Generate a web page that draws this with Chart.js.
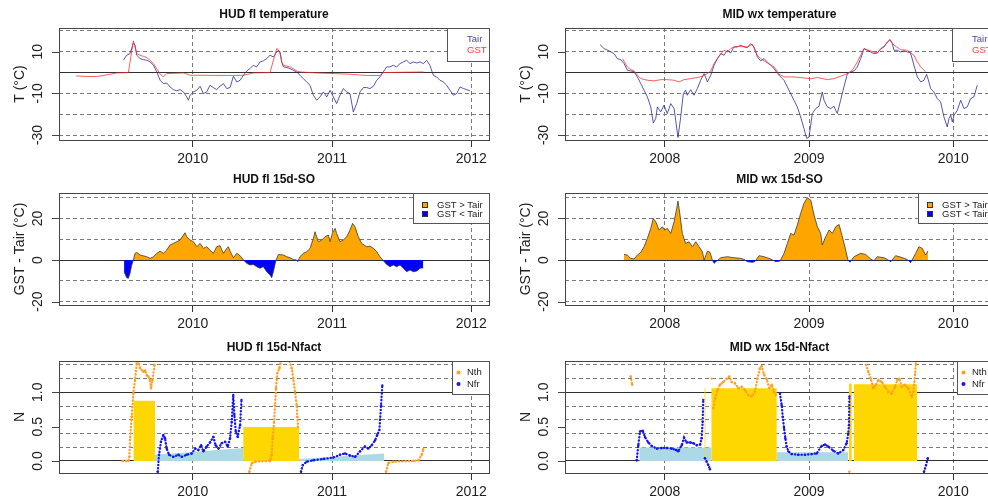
<!DOCTYPE html>
<html>
<head>
<meta charset="utf-8">
<title>HUD fl / MID wx</title>
<style>
    html, body { margin: 0; padding: 0; background: #fff; overflow: hidden; }
    #wrap { position: relative; width: 988px; height: 500px; overflow: hidden; }
    canvas { position: absolute; }
</style>
<script src="https://cdn.jsdelivr.net/npm/chart.js@4.4.1/dist/chart.umd.min.js"></script>
</head>
<body>
<div id="wrap">
    <canvas id="hudTemp" width="494" height="165" style="left:0;top:0"></canvas>
    <canvas id="midTemp" width="510" height="165" style="left:494px;top:0"></canvas>
    <canvas id="hudSo" width="494" height="165" style="left:0;top:165px"></canvas>
    <canvas id="midSo" width="510" height="165" style="left:494px;top:165px"></canvas>
    <canvas id="hudN" width="494" height="170" style="left:0;top:330px"></canvas>
    <canvas id="midN" width="510" height="170" style="left:494px;top:330px"></canvas>
</div>
<script>
// ---- axes / labels ----
const hudYears = [2010, 2011, 2012];
const midYears = [2008, 2009, 2010];
const tempGrid = [20, 10, 0, -10, -20, -30];
const tempLabels = [10, -10, -30];
const soGrid = [30, 20, 10, 0, -10, -20];
const soLabels = [20, 0, -20];
const nGrid = [0, 0.2, 0.4, 0.6, 0.8, 1.0, 1.2, 1.4];
const nLabels = [0, 0.5, 1.0];
const tempLegend = ['Tair', 'GST'];
const soLegend = ['GST > Tair', 'GST < Tair'];
const nLegend = ['Nth', 'Nfr'];

// ---- temperature series [decimal year, degC] ----
const hudTair = [[2009.502,5.9],[2009.526,8.3],[2009.550,9.1],[2009.574,14.2],[2009.586,13.1],[2009.598,8.3],[2009.622,6.7],[2009.646,6.2],[2009.670,5.9],[2009.694,5.1],[2009.718,3.5],[2009.742,0.3],[2009.766,-3.7],[2009.789,-5.3],[2009.813,-5.0],[2009.837,-6.9],[2009.861,-8.2],[2009.885,-8.8],[2009.909,-8.2],[2009.933,-9.3],[2009.957,-11.7],[2009.969,-13.3],[2009.981,-10.9],[2010.005,-9.3],[2010.029,-8.5],[2010.053,-6.6],[2010.077,-10.1],[2010.100,-9.3],[2010.124,-6.1],[2010.148,-7.2],[2010.172,-8.2],[2010.196,-6.6],[2010.220,-5.3],[2010.244,-7.7],[2010.268,-7.2],[2010.292,-1.8],[2010.316,-4.5],[2010.340,-3.7],[2010.364,-1.3],[2010.388,0.8],[2010.411,1.9],[2010.435,3.5],[2010.459,2.7],[2010.483,5.1],[2010.507,5.6],[2010.531,6.7],[2010.555,8.3],[2010.579,7.5],[2010.603,9.9],[2010.615,10.7],[2010.627,9.9],[2010.639,5.1],[2010.651,2.7],[2010.675,2.4],[2010.699,1.9],[2010.722,1.1],[2010.746,0.3],[2010.770,-1.3],[2010.794,-2.9],[2010.818,-4.5],[2010.842,-6.1],[2010.866,-10.9],[2010.890,-13.3],[2010.914,-11.7],[2010.938,-9.3],[2010.962,-11.7],[2010.986,-8.5],[2011.010,-11.7],[2011.033,-14.9],[2011.057,-10.9],[2011.081,-7.7],[2011.105,-9.3],[2011.129,-10.1],[2011.153,-18.9],[2011.177,-14.9],[2011.201,-9.3],[2011.225,-7.2],[2011.249,-7.2],[2011.273,-7.7],[2011.297,-6.6],[2011.321,-3.7],[2011.344,-2.1],[2011.368,0.3],[2011.392,2.7],[2011.416,2.7],[2011.440,3.5],[2011.464,2.7],[2011.488,4.3],[2011.512,5.1],[2011.536,5.9],[2011.560,4.3],[2011.584,5.1],[2011.608,4.6],[2011.632,5.1],[2011.656,4.3],[2011.679,5.9],[2011.703,3.5],[2011.727,-1.3],[2011.751,-2.1],[2011.775,-3.7],[2011.799,-4.5],[2011.823,-6.1],[2011.847,-8.5],[2011.871,-10.9],[2011.895,-10.1],[2011.919,-6.9],[2011.943,-7.7],[2011.967,-8.2],[2011.990,-8.8]];
const hudGst = [[2009.163,-1.6],[2009.239,-1.9],[2009.311,-1.9],[2009.359,-1.4],[2009.407,-0.8],[2009.455,-0.2],[2009.538,0.0],[2009.574,15.2],[2009.586,12.3],[2009.598,9.1],[2009.622,8.3],[2009.646,7.8],[2009.670,7.2],[2009.694,5.9],[2009.718,4.3],[2009.742,1.9],[2009.766,-0.8],[2009.789,-2.1],[2009.813,-0.5],[2009.933,-0.2],[2009.981,-1.3],[2010.292,-1.4],[2010.364,-1.3],[2010.435,-0.2],[2010.555,0.0],[2010.579,5.9],[2010.603,11.5],[2010.615,11.0],[2010.627,9.1],[2010.639,5.1],[2010.651,3.5],[2010.699,2.7],[2010.746,0.8],[2010.770,0.3],[2010.890,-0.2],[2011.010,-0.5],[2011.129,-0.8],[2011.249,-1.4],[2011.344,-1.4],[2011.368,0.0],[2011.656,0.3]];
const midTair = [[2007.552,13.4],[2007.580,11.5],[2007.614,10.4],[2007.649,9.1],[2007.672,6.7],[2007.695,6.2],[2007.718,4.3],[2007.741,1.1],[2007.764,0.8],[2007.788,0.3],[2007.811,-2.1],[2007.834,-5.3],[2007.857,-8.5],[2007.880,-11.7],[2007.903,-16.5],[2007.921,-24.2],[2007.938,-22.1],[2007.949,-16.5],[2007.972,-18.9],[2007.995,-15.7],[2008.018,-19.7],[2008.042,-14.9],[2008.065,-17.3],[2008.076,-22.9],[2008.092,-31.2],[2008.111,-21.3],[2008.129,-10.1],[2008.145,-8.5],[2008.157,-10.9],[2008.180,-8.2],[2008.203,-10.9],[2008.226,-7.7],[2008.249,-3.7],[2008.273,-0.5],[2008.296,-4.5],[2008.319,-1.3],[2008.342,3.5],[2008.365,6.7],[2008.388,9.1],[2008.411,8.3],[2008.434,10.7],[2008.457,9.4],[2008.480,12.3],[2008.503,12.3],[2008.527,13.1],[2008.550,12.3],[2008.573,12.0],[2008.596,13.9],[2008.619,12.3],[2008.642,7.5],[2008.665,5.6],[2008.688,6.7],[2008.711,5.1],[2008.734,3.5],[2008.758,1.9],[2008.781,-0.5],[2008.804,-2.1],[2008.827,-3.7],[2008.850,-6.9],[2008.873,-10.1],[2008.896,-13.3],[2008.919,-16.5],[2008.942,-21.3],[2008.965,-26.9],[2008.984,-31.7],[2009.000,-30.9],[2009.023,-19.7],[2009.046,-17.3],[2009.069,-16.2],[2009.092,-9.3],[2009.104,-13.3],[2009.127,-16.5],[2009.150,-17.3],[2009.173,-16.2],[2009.196,-19.7],[2009.219,-13.3],[2009.242,-6.9],[2009.266,-0.5],[2009.289,0.3],[2009.312,0.8],[2009.335,2.7],[2009.358,6.7],[2009.381,11.5],[2009.404,10.7],[2009.427,9.9],[2009.450,9.1],[2009.473,9.4],[2009.497,11.5],[2009.520,12.3],[2009.543,14.7],[2009.561,15.8],[2009.577,13.9],[2009.589,10.7],[2009.612,10.7],[2009.635,9.9],[2009.658,10.4],[2009.681,9.9],[2009.704,9.4],[2009.727,3.5],[2009.751,-2.1],[2009.774,-4.5],[2009.797,-3.7],[2009.815,-0.8],[2009.831,-4.5],[2009.843,-7.7],[2009.866,-9.3],[2009.889,-12.5],[2009.912,-14.1],[2009.935,-21.3],[2009.958,-26.1],[2009.970,-22.1],[2009.982,-20.5],[2009.993,-23.7],[2010.005,-20.5],[2010.028,-18.1],[2010.051,-13.3],[2010.074,-17.3],[2010.097,-16.5],[2010.120,-12.5],[2010.143,-11.7],[2010.166,-6.1]];
const midGst = [[2007.707,6.7],[2007.741,2.7],[2007.764,1.4],[2007.788,0.8],[2007.811,-1.3],[2007.834,-2.9],[2007.880,-3.7],[2007.926,-4.0],[2007.972,-3.4],[2008.018,-3.4],[2008.065,-3.7],[2008.099,-4.5],[2008.134,-3.4],[2008.180,-2.9],[2008.226,-2.4],[2008.261,-1.8],[2008.296,-0.5],[2008.319,0.8],[2008.342,4.3],[2008.365,6.7],[2008.388,8.8],[2008.411,10.7],[2008.434,9.9],[2008.457,11.5],[2008.480,12.3],[2008.527,12.6],[2008.573,12.3],[2008.607,13.6],[2008.642,8.3],[2008.665,6.7],[2008.711,4.6],[2008.758,2.7],[2008.792,-0.8],[2008.827,-2.1],[2008.896,-2.1],[2008.965,-2.6],[2009.012,-3.0],[2009.058,-2.4],[2009.127,-3.4],[2009.173,-2.9],[2009.219,-1.8],[2009.266,-0.5],[2009.300,1.1],[2009.335,5.1],[2009.358,8.3],[2009.381,11.5],[2009.427,10.4],[2009.473,9.4],[2009.520,12.6],[2009.561,15.8],[2009.589,13.1],[2009.635,11.0],[2009.681,10.7],[2009.727,8.3],[2009.751,5.1],[2009.774,2.7],[2009.808,0.3]];

// ---- 15d surface offset GST - Tair ----
const hudSo = [[2009.507,-5.6],[2009.526,-8.5],[2009.538,-8.8],[2009.550,-6.4],[2009.562,-2.4],[2009.574,0],[2009.586,3.2],[2009.598,3.7],[2009.622,2.4],[2009.670,1.6],[2009.694,0.8],[2009.718,1.6],[2009.742,3.2],[2009.766,4.3],[2009.789,3.2],[2009.813,4.8],[2009.837,7.2],[2009.861,8.0],[2009.885,8.8],[2009.909,9.6],[2009.933,12.0],[2009.945,13.1],[2009.957,11.2],[2009.981,9.6],[2010.005,8.8],[2010.029,6.4],[2010.053,8.0],[2010.077,5.6],[2010.100,6.4],[2010.124,4.8],[2010.148,3.2],[2010.172,6.4],[2010.196,6.9],[2010.220,3.2],[2010.244,5.6],[2010.256,6.4],[2010.268,4.3],[2010.292,1.1],[2010.316,3.2],[2010.340,2.1],[2010.364,0],[2010.388,-1.6],[2010.411,-2.4],[2010.435,-2.1],[2010.459,-3.2],[2010.483,-4.0],[2010.507,-3.2],[2010.531,-5.6],[2010.555,-7.2],[2010.567,-8.5],[2010.579,-5.6],[2010.598,0],[2010.615,2.7],[2010.651,2.4],[2010.675,1.6],[2010.699,1.1],[2010.722,0.3],[2010.746,0],[2010.754,-0.8],[2010.770,1.6],[2010.794,3.2],[2010.818,4.0],[2010.842,5.6],[2010.866,10.4],[2010.878,13.6],[2010.890,11.2],[2010.902,8.8],[2010.926,9.6],[2010.950,11.2],[2010.974,12.0],[2010.986,8.8],[2011.002,12.8],[2011.022,15.2],[2011.033,12.8],[2011.057,8.8],[2011.081,9.6],[2011.105,11.2],[2011.129,14.4],[2011.148,17.6],[2011.165,16.0],[2011.189,11.2],[2011.213,8.0],[2011.249,6.4],[2011.273,6.7],[2011.297,5.6],[2011.321,4.0],[2011.344,1.6],[2011.364,0],[2011.392,-2.1],[2011.416,-3.2],[2011.440,-2.4],[2011.464,-3.2],[2011.488,-2.4],[2011.512,-4.0],[2011.536,-5.6],[2011.560,-4.8],[2011.584,-5.6],[2011.608,-5.3],[2011.632,-4.0],[2011.656,-3.7]];
const midSo = [[2007.718,2.7],[2007.741,2.4],[2007.764,0.8],[2007.788,0.5],[2007.811,2.4],[2007.834,3.7],[2007.857,6.4],[2007.880,10.4],[2007.903,15.2],[2007.921,20.0],[2007.938,18.4],[2007.961,14.4],[2007.984,16.0],[2008.000,14.4],[2008.018,15.2],[2008.042,12.8],[2008.065,18.4],[2008.083,24.8],[2008.092,28.3],[2008.106,21.6],[2008.122,12.8],[2008.145,8.0],[2008.169,8.8],[2008.192,6.4],[2008.215,8.8],[2008.238,6.4],[2008.261,4.0],[2008.273,0],[2008.296,4.3],[2008.314,3.7],[2008.330,0],[2008.342,-1.6],[2008.360,-0.5],[2008.388,1.1],[2008.434,1.6],[2008.480,1.1],[2008.527,0.8],[2008.550,0.3],[2008.573,-0.8],[2008.607,-1.1],[2008.624,-0.8],[2008.654,2.1],[2008.688,1.6],[2008.734,0.5],[2008.769,-0.8],[2008.799,-0.5],[2008.827,3.2],[2008.850,8.0],[2008.873,12.8],[2008.896,12.0],[2008.919,16.8],[2008.942,22.4],[2008.965,27.2],[2008.988,29.9],[2009.012,28.8],[2009.035,21.6],[2009.058,16.0],[2009.081,12.8],[2009.092,7.2],[2009.115,11.2],[2009.139,14.4],[2009.162,12.8],[2009.185,16.0],[2009.208,17.1],[2009.231,11.2],[2009.254,4.8],[2009.270,0],[2009.284,-1.1],[2009.312,1.6],[2009.358,3.2],[2009.393,2.7],[2009.427,0.5],[2009.450,-0.3],[2009.473,1.6],[2009.520,1.1],[2009.543,0.3],[2009.566,-0.8],[2009.600,2.1],[2009.635,1.4],[2009.681,0.3],[2009.704,-1.3],[2009.739,3.2],[2009.762,6.4],[2009.785,5.6],[2009.808,2.4],[2009.824,4.3]];

// ---- 15d n-factors (null = gap) ----
const hudNth = [[2009.498,0],[2009.538,0],[2009.545,0.06],[2009.550,0.31],[2009.562,0.65],[2009.574,0.99],[2009.586,1.18],[2009.598,1.42],[2009.605,1.50],[2009.610,1.45],[2009.622,1.35],[2009.645,1.30],[2009.658,1.32],[2009.670,1.25],[2009.681,1.23],[2009.693,1.18],[2009.701,1.06],[2009.711,1.18],[2009.726,1.40],null,
    [2010.406,-0.156],[2010.424,-0.03],[2010.447,-0.01],[2010.555,0],[2010.567,0.09],[2010.574,0.33],[2010.584,0.57],[2010.591,0.81],[2010.598,1.06],[2010.607,1.28],[2010.622,1.35],[2010.632,1.45],[2010.650,1.52],[2010.693,1.47],[2010.711,1.35],[2010.722,1.20],[2010.734,1.01],[2010.747,0.81],[2010.751,0.64],[2010.756,0.50],null,
    [2011.388,-0.156],[2011.404,-0.03],[2011.440,-0.01],[2011.584,0],[2011.620,0.01],[2011.644,0.09],[2011.655,0.17]];
const hudNfr = [[2009.749,-0.156],[2009.758,0.09],[2009.772,0.28],[2009.789,0.38],[2009.801,0.33],[2009.813,0.18],[2009.830,0.09],[2009.861,0.06],[2009.897,0.09],[2009.921,0.06],[2009.957,0.09],[2009.993,0.11],[2010.017,0.18],[2010.040,0.16],[2010.060,0.23],[2010.076,0.14],[2010.100,0.21],[2010.124,0.27],[2010.148,0.35],[2010.165,0.23],[2010.184,0.18],[2010.208,0.26],[2010.232,0.28],[2010.251,0.21],[2010.268,0.33],[2010.280,0.57],[2010.291,0.96],[2010.299,0.67],[2010.309,0.43],[2010.323,0.35],[2010.340,0.52],[2010.350,0.89],null,[2010.356,1.47],null,
    [2010.777,-0.156],[2010.790,-0.06],[2010.818,-0.01],[2010.866,0.01],[2010.938,0.03],[2011.009,0.05],[2011.057,0.09],[2011.093,0.11],[2011.129,0.08],[2011.165,0.06],[2011.201,0.14],[2011.237,0.21],[2011.261,0.18],[2011.285,0.23],[2011.309,0.30],[2011.325,0.38],[2011.340,0.45],[2011.345,0.60],[2011.352,0.81],[2011.361,1.10]];
const hudNthBarStart = [2009.574, 2010.363];
const hudNthBarEnd = [2009.729, 2010.765];
const hudNthBarVal = [0.878, 0.495];
const hudNfrBarStart = [2009.729, 2010.765];
const hudNfrBarEnd = [2010.363, 2011.373];
const hudNfrBarFrom = [0.09, 0.03];
const hudNfrBarTo = [0.19, 0.11];

const midNth = [[2007.706,1.47],null,[2007.764,1.23],[2007.775,1.11],null,[2008.326,1.20],null,
    [2008.337,0.77],[2008.349,0.91],[2008.365,1.03],[2008.383,1.11],[2008.406,1.15],[2008.430,1.20],[2008.448,1.23],[2008.464,1.15],[2008.487,1.13],[2008.510,1.06],[2008.534,1.08],[2008.556,1.03],[2008.579,0.96],[2008.603,0.94],[2008.626,1.01],[2008.642,1.20],[2008.660,1.35],[2008.672,1.38],[2008.688,1.26],[2008.707,1.19],[2008.725,1.06],[2008.742,1.11],[2008.757,1.01],[2008.771,0.96],null,
    [2009.279,-0.156],null,[2009.331,1.46],null,
    [2009.395,1.40],[2009.411,1.30],[2009.428,1.20],[2009.446,1.06],[2009.464,1.11],[2009.480,1.18],[2009.504,1.15],[2009.527,1.08],[2009.550,1.01],[2009.573,0.98],[2009.596,1.08],[2009.612,1.18],[2009.626,1.20],[2009.642,1.08],[2009.665,1.11],[2009.688,1.06],[2009.712,0.94],[2009.723,1.01],[2009.735,1.26],[2009.741,1.42]];
const midNfr = [[2007.806,0.01],[2007.817,0.23],[2007.829,0.43],[2007.848,0.44],[2007.863,0.35],[2007.886,0.27],[2007.910,0.22],[2007.945,0.18],[2007.979,0.19],[2008.014,0.19],[2008.049,0.18],[2008.078,0.16],[2008.094,0.14],[2008.118,0.23],[2008.134,0.34],[2008.152,0.27],[2008.175,0.27],[2008.198,0.26],[2008.222,0.23],[2008.245,0.24],[2008.256,0.33],[2008.263,0.57],[2008.267,0.89],null,
    [2008.279,0.04],[2008.291,-0.01],[2008.302,-0.06],[2008.314,-0.12],null,
    [2008.799,0.98],[2008.811,0.81],[2008.818,0.64],[2008.827,0.48],[2008.836,0.33],[2008.845,0.21],[2008.857,0.14],[2008.880,0.10],[2008.926,0.09],[2008.972,0.09],[2009.019,0.10],[2009.053,0.11],[2009.088,0.22],[2009.111,0.24],[2009.134,0.21],[2009.168,0.15],[2009.203,0.11],[2009.238,0.16],[2009.261,0.26],[2009.272,0.40],[2009.277,0.52],[2009.280,0.94],null,
    [2009.797,-0.156],[2009.811,-0.06],[2009.823,0.04]];
const midNthBarStart = [2008.275, 2008.324, 2009.277, 2009.312];
const midNthBarEnd = [2008.282, 2008.776, 2009.296, 2009.750];
const midNthBarVal = [1.06, 1.058, 1.13, 1.116];
const midNfrBarStart = [2007.824, 2008.776];
const midNfrBarEnd = [2008.324, 2009.272];
const midNfrBarVal = [0.195, 0.127];

// ---- styling ----
const FONT = "'Liberation Sans', Arial, Helvetica, sans-serif";
const TAIR_COL = 'rgba(45,45,150,0.8)';
const GST_COL = 'rgba(255,40,40,0.75)';
const ORANGE = '#FFA500';
const BLUE = '#0000FF';
const NTH_COL = '#FFA024';
const NFR_COL = '#1616F0';
Chart.defaults.font.family = FONT;

// turn [x,y] pairs (null = break) into chart points
function pts(arr) {
    let lastX = null;
    return arr.map(p => {
        if (p) { lastX = p[0]; return {x: p[0], y: p[1]}; }
        return {x: lastX, y: null};
    });
}

// outline of the period bars, filled down to zero
function barPoly(start, end, from, to) {
    const out = [];
    start.forEach((s, i) => {
        out.push({x: s, y: 0}, {x: s, y: from[i]}, {x: end[i], y: to[i]}, {x: end[i], y: 0});
    });
    return out;
}

function dotted(color) {
    return {
        borderColor: color, backgroundColor: color, borderWidth: 2.3,
        borderDash: [0.3, 3.0], borderCapStyle: 'round',
        pointRadius: 1.2, pointBorderWidth: 0, pointBackgroundColor: color,
        clip: 0, spanGaps: false
    };
}

function drawLegend(ctx, a, lg) {
    const dims = {text: [42, 33], square: [76, 30], dot: [37, 33]}[lg.type];
    const bx = Math.round(a.right - dims[0]) + 0.5, by = Math.round(a.top) + 0.5;
    ctx.fillStyle = '#fff';
    ctx.fillRect(bx, by, dims[0], dims[1]);
    ctx.strokeStyle = '#555';
    ctx.lineWidth = 1;
    ctx.strokeRect(bx, by, dims[0], dims[1]);
    ctx.font = '9.5px ' + FONT;
    ctx.textAlign = 'left';
    ctx.textBaseline = 'middle';
    lg.labels.forEach((txt, i) => {
        const col = lg.colors[i];
        if (lg.type === 'text') {
            ctx.fillStyle = col;
            ctx.fillText(txt, bx + 19.5, by + 11 + 10.5 * i);
        } else if (lg.type === 'square') {
            const cy = by + 11.5 + 9 * i;
            ctx.fillStyle = col;
            ctx.fillRect(bx + 9, cy - 2.5, 5, 5);
            ctx.strokeStyle = '#333';
            ctx.strokeRect(bx + 9, cy - 2.5, 5, 5);
            ctx.fillStyle = '#222';
            ctx.fillText(txt, bx + 23.5, cy);
        } else {
            const cy = by + 11 + 11.5 * i;
            ctx.fillStyle = col;
            ctx.beginPath();
            ctx.arc(bx + 6, cy, 2, 0, 2 * Math.PI);
            ctx.fill();
            ctx.fillStyle = '#222';
            ctx.fillText(txt, bx + 14.5, cy);
        }
    });
}

// box, y ticks (rotated like R), titles and legend
function deco(info) {
    return {
        id: 'deco',
        afterDraw(chart) {
            const {ctx, chartArea: a, scales: {y}} = chart;
            ctx.save();
            ctx.strokeStyle = '#444';
            ctx.lineWidth = 1;
            ctx.strokeRect(Math.round(a.left) + 0.5, Math.round(a.top) + 0.5,
                Math.round(a.right - a.left), Math.round(a.bottom - a.top));

            ctx.beginPath();
            info.yTicks.forEach(v => {
                const py = Math.round(y.getPixelForValue(v)) + 0.5;
                ctx.moveTo(a.left, py);
                ctx.lineTo(a.left - 7, py);
            });
            ctx.stroke();

            ctx.fillStyle = '#222';
            ctx.font = '14px ' + FONT;
            ctx.textAlign = 'center';
            ctx.textBaseline = 'middle';
            info.yTicks.forEach(v => {
                ctx.save();
                ctx.translate(a.left - 21, y.getPixelForValue(v));
                ctx.rotate(-Math.PI / 2);
                ctx.fillText(info.fmt(v), 0, 0);
                ctx.restore();
            });

            ctx.save();
            ctx.translate(a.left - 38.5, (a.top + a.bottom) / 2);
            ctx.rotate(-Math.PI / 2);
            ctx.fillText(info.yTitle, 0, 0);
            ctx.restore();

            ctx.font = 'bold 12px ' + FONT;
            ctx.fillStyle = '#111';
            ctx.fillText(info.title, (a.left + a.right) / 2, a.top - 13);

            drawLegend(ctx, a, info.legend);
            ctx.restore();
        }
    };
}

function makePanel(id, info) {
    const canvas = document.getElementById(id);
    const W = canvas.width, H = canvas.height, p = info.plot;
    const solid = info.ySolid;
    return new Chart(canvas, {
        type: 'line',
        data: {datasets: info.datasets},
        plugins: [deco(info)],
        options: {
            responsive: false,
            animation: false,
            events: [],
            devicePixelRatio: 1,
            layout: {padding: {left: 0, top: p.t, right: W - p.r, bottom: 0}},
            plugins: {legend: {display: false}, tooltip: {enabled: false}},
            scales: {
                x: {
                    type: 'linear', min: info.xMin, max: info.xMax,
                    afterBuildTicks: s => { s.ticks = info.xTicks.map(v => ({value: v})); },
                    afterFit: s => { s.height = H - p.b; },
                    grid: {color: '#7a7a7a', lineWidth: 1, drawTicks: true, tickLength: 7,
                           tickColor: '#333', tickWidth: 1, tickBorderDash: []},
                    border: {display: false, dash: [4, 3]},
                    ticks: {color: '#222', font: {size: 14}, padding: 4, autoSkip: false,
                            maxRotation: 0, callback: v => String(v)}
                },
                y: {
                    type: 'linear', min: info.yMin, max: info.yMax,
                    afterBuildTicks: s => { s.ticks = info.yGrid.map(v => ({value: v})); },
                    afterFit: s => { s.width = p.l; },
                    grid: {
                        drawTicks: false, lineWidth: 1,
                        color: c => (c.tick && solid.includes(c.tick.value)) ? '#303030' : '#7a7a7a'
                    },
                    border: {
                        display: false,
                        dash: c => (c.tick && solid.includes(c.tick.value)) ? [] : [4, 3]
                    },
                    ticks: {display: false}
                }
            }
        }
    });
}

const leftPlot = (t, b) => ({l: 59, t: t, r: 489, b: b});
const rightPlot = (t, b) => ({l: 71, t: t, r: 500, b: b});
const tempLeg = {type: 'text', labels: tempLegend, colors: ['#4848a8', '#ff3a3a']};
const soLeg = {type: 'square', labels: soLegend, colors: [ORANGE, BLUE]};
const nLeg = {type: 'dot', labels: nLegend, colors: [NTH_COL, NFR_COL]};
const intFmt = v => String(v);
const decFmt = v => v.toFixed(1);

function tempSets(gst, tair) {
    return [
        {data: pts(gst), borderColor: GST_COL, borderWidth: 1, pointRadius: 0, order: 0},
        {data: pts(tair), borderColor: TAIR_COL, borderWidth: 1, pointRadius: 0, order: 1}
    ];
}
function soSets(so) {
    return [{data: pts(so), borderColor: '#3a3a3a', borderWidth: 0.8, pointRadius: 0,
             fill: {target: 'origin', above: ORANGE, below: BLUE}}];
}

makePanel('hudTemp', {
    title: 'HUD fl temperature', yTitle: 'T (°C)', plot: leftPlot(28, 140),
    xMin: 2009.040, xMax: 2012.127, xTicks: hudYears,
    yMin: -32.4, yMax: 21.4, yGrid: tempGrid, ySolid: [0], yTicks: tempLabels, fmt: intFmt,
    legend: tempLeg, datasets: tempSets(hudGst, hudTair)
});
makePanel('midTemp', {
    title: 'MID wx temperature', yTitle: 'T (°C)', plot: rightPlot(28, 140),
    xMin: 2007.309, xMax: 2010.282, xTicks: midYears,
    yMin: -32.4, yMax: 21.4, yGrid: tempGrid, ySolid: [0], yTicks: tempLabels, fmt: intFmt,
    legend: tempLeg, datasets: tempSets(midGst, midTair)
});
makePanel('hudSo', {
    title: 'HUD fl 15d-SO', yTitle: 'GST - Tair (°C)', plot: leftPlot(28, 140),
    xMin: 2009.040, xMax: 2012.127, xTicks: hudYears,
    yMin: -21.6, yMax: 32.2, yGrid: soGrid, ySolid: [0], yTicks: soLabels, fmt: intFmt,
    legend: soLeg, datasets: soSets(hudSo)
});
makePanel('midSo', {
    title: 'MID wx 15d-SO', yTitle: 'GST - Tair (°C)', plot: rightPlot(28, 140),
    xMin: 2007.309, xMax: 2010.282, xTicks: midYears,
    yMin: -21.6, yMax: 32.2, yGrid: soGrid, ySolid: [0], yTicks: soLabels, fmt: intFmt,
    legend: soLeg, datasets: soSets(midSo)
});
makePanel('hudN', {
    title: 'HUD fl 15d-Nfact', yTitle: 'N', plot: leftPlot(31, 143),
    xMin: 2009.040, xMax: 2012.127, xTicks: hudYears,
    yMin: -0.175, yMax: 1.456, yGrid: nGrid, ySolid: [0, 1], yTicks: nLabels, fmt: decFmt,
    legend: nLeg,
    datasets: [
        {data: pts(hudNth), ...dotted(NTH_COL), order: 0},
        {data: pts(hudNfr), ...dotted(NFR_COL), order: 1},
        {data: barPoly(hudNthBarStart, hudNthBarEnd, hudNthBarVal, hudNthBarVal),
         backgroundColor: '#FFD700', fill: 'origin', borderWidth: 0, pointRadius: 0, order: 3},
        {data: barPoly(hudNfrBarStart, hudNfrBarEnd, hudNfrBarFrom, hudNfrBarTo),
         backgroundColor: '#ADD8E6', fill: 'origin', borderWidth: 0, pointRadius: 0, order: 4}
    ]
});
makePanel('midN', {
    title: 'MID wx 15d-Nfact', yTitle: 'N', plot: rightPlot(31, 143),
    xMin: 2007.309, xMax: 2010.282, xTicks: midYears,
    yMin: -0.175, yMax: 1.456, yGrid: nGrid, ySolid: [0, 1], yTicks: nLabels, fmt: decFmt,
    legend: nLeg,
    datasets: [
        {data: pts(midNth), ...dotted(NTH_COL), order: 0},
        {data: pts(midNfr), ...dotted(NFR_COL), order: 1},
        {data: barPoly(midNthBarStart, midNthBarEnd, midNthBarVal, midNthBarVal),
         backgroundColor: '#FFD700', fill: 'origin', borderWidth: 0, pointRadius: 0, order: 3},
        {data: barPoly(midNfrBarStart, midNfrBarEnd, midNfrBarVal, midNfrBarVal),
         backgroundColor: '#ADD8E6', fill: 'origin', borderWidth: 0, pointRadius: 0, order: 4}
    ]
});
</script>
</body>
</html>
